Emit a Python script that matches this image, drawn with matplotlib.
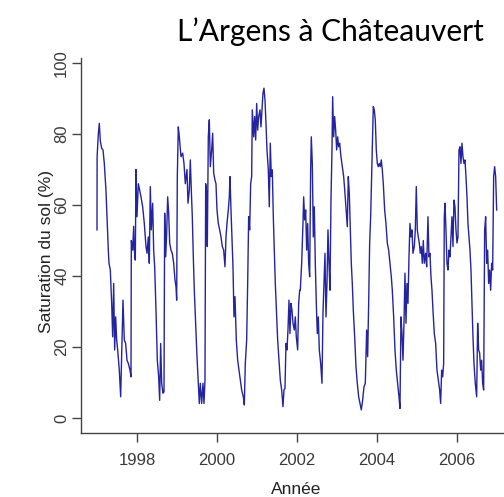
import matplotlib
matplotlib.use("Agg")
import matplotlib.pyplot as plt

# soil saturation (%), decimal years
years_a = [
    1997.000, 1997.003, 1997.033, 1997.058, 1997.083, 1997.117, 1997.150, 1997.183,
    1997.225, 1997.250, 1997.283, 1997.300, 1997.333, 1997.367, 1997.392, 1997.417,
    1997.442, 1997.467, 1997.492, 1997.517, 1997.558, 1997.592, 1997.617, 1997.650,
    1997.683, 1997.717, 1997.750, 1997.783, 1997.825, 1997.850, 1997.858, 1997.892,
    1997.917, 1997.933, 1997.958, 1997.975, 1998.000, 1998.033, 1998.067, 1998.100,
    1998.142, 1998.183, 1998.225, 1998.250, 1998.283, 1998.308, 1998.333, 1998.358,
    1998.392, 1998.417, 1998.442, 1998.475, 1998.508, 1998.542, 1998.567, 1998.592,
    1998.617, 1998.650, 1998.675, 1998.692, 1998.717, 1998.742, 1998.767, 1998.792,
    1998.817, 1998.850, 1998.883, 1998.917, 1998.950, 1998.975, 1998.992, 1999.008,
    1999.033, 1999.058, 1999.100, 1999.142, 1999.175, 1999.208, 1999.250, 1999.275,
    1999.308, 1999.333, 1999.358, 1999.383, 1999.408, 1999.433, 1999.467, 1999.500,
    1999.533, 1999.558, 1999.583, 1999.617, 1999.650, 1999.675, 1999.700, 1999.717,
    1999.742, 1999.758, 1999.783, 1999.808, 1999.833, 1999.867, 1999.892, 1999.917,
    1999.950, 1999.975, 2000.000, 2000.033, 2000.067, 2000.100, 2000.133, 2000.167,
    2000.200, 2000.225, 2000.250, 2000.283, 2000.308, 2000.325, 2000.350, 2000.375,
    2000.400, 2000.425, 2000.450, 2000.483, 2000.517, 2000.550, 2000.583, 2000.617,
    2000.658, 2000.683, 2000.708, 2000.742, 2000.767, 2000.792, 2000.817, 2000.842,
    2000.867, 2000.883, 2000.917, 2000.942, 2000.967, 2000.992, 2001.017, 2001.042,
    2001.075, 2001.100, 2001.125, 2001.150, 2001.175, 2001.200, 2001.225, 2001.250,
    2001.283, 2001.308, 2001.333, 2001.358, 2001.383, 2001.408, 2001.433, 2001.458,
    2001.492, 2001.517, 2001.550, 2001.583, 2001.617, 2001.650, 2001.675, 2001.700,
    2001.725, 2001.750, 2001.775, 2001.800, 2001.825, 2001.850, 2001.875, 2001.900,
    2001.933, 2001.958, 2001.983, 2002.017, 2002.042, 2002.067,
]
sat_a = [
    53.0, 73.6, 80.0, 83.0, 78.0, 76.0, 75.5, 71.7,
    64.0, 56.7, 47.3, 43.6, 41.7, 32.3, 22.9, 37.9,
    19.2, 28.5, 22.0, 19.2, 13.5, 6.0, 17.3, 33.2,
    22.0, 21.0, 16.3, 15.4, 13.5, 11.6, 50.0, 47.3,
    54.0, 47.3, 44.5, 70.0, 56.7, 66.0, 64.2, 62.3,
    59.5, 54.8, 48.3, 46.4, 51.0, 43.6, 65.2, 53.0,
    60.5, 47.3, 42.6, 30.4, 16.3, 11.6, 5.0, 21.0,
    9.8, 7.0, 7.4, 57.7, 45.4, 52.0, 62.3, 57.7,
    49.3, 47.3, 46.4, 43.6, 38.9, 37.0, 33.2, 68.0,
    82.0, 79.2, 73.6, 74.6, 71.7, 66.0, 70.0, 60.5,
    64.2, 72.7, 64.2, 56.7, 45.4, 36.0, 26.7, 17.3,
    9.8, 4.1, 9.8, 4.1, 9.8, 4.1, 10.7, 66.0,
    63.3, 48.3, 79.2, 84.0, 70.8, 75.5, 80.2, 69.0,
    67.0, 66.0, 58.6, 54.8, 53.0, 51.0, 48.3, 47.3,
    42.6, 51.0, 54.8, 58.6, 62.3, 68.0, 58.6, 51.0,
    42.6, 28.5, 34.2, 22.0, 16.3, 13.5, 10.7, 7.9,
    6.0, 3.7, 15.4, 22.0, 37.9, 56.7, 53.0, 66.0,
    68.0, 86.8, 79.2, 84.9, 78.3, 88.6, 81.1, 84.9,
    86.8, 82.0, 86.8, 91.5, 92.9, 89.6, 83.0, 75.5,
    69.9, 59.5, 77.4, 68.0, 69.9, 56.7, 47.3, 37.9,
    28.5, 22.0, 16.3, 10.7, 7.9, 3.2, 7.9, 8.4,
    21.0, 19.2, 24.8, 33.2, 23.8, 32.3, 30.4, 26.7,
    24.8, 28.5, 22.9, 19.2, 32.3, 36.0,
]
years_b = [
    2002.083, 2002.117, 2002.150, 2002.167, 2002.192, 2002.217, 2002.242, 2002.267,
    2002.292, 2002.317, 2002.342, 2002.358, 2002.383, 2002.408, 2002.433, 2002.458,
    2002.483, 2002.508, 2002.533, 2002.558, 2002.592, 2002.625, 2002.650, 2002.675,
    2002.700, 2002.725, 2002.750, 2002.775, 2002.800, 2002.825, 2002.850, 2002.875,
    2002.892, 2002.917, 2002.942, 2002.967, 2002.992, 2003.017, 2003.042, 2003.067,
    2003.100, 2003.133, 2003.167, 2003.200, 2003.233, 2003.258, 2003.283, 2003.308,
    2003.333, 2003.358, 2003.383, 2003.408, 2003.442, 2003.475, 2003.508, 2003.542,
    2003.575, 2003.608, 2003.642, 2003.675, 2003.708, 2003.742, 2003.767, 2003.792,
    2003.817, 2003.842, 2003.867, 2003.892, 2003.908, 2003.933, 2003.958, 2003.983,
    2004.008, 2004.033, 2004.058, 2004.083, 2004.108, 2004.133, 2004.158, 2004.192,
    2004.225, 2004.258, 2004.292, 2004.325, 2004.358, 2004.383, 2004.417, 2004.450,
    2004.483, 2004.517, 2004.550, 2004.575, 2004.600, 2004.625, 2004.650, 2004.675,
    2004.700, 2004.725, 2004.750, 2004.775, 2004.800, 2004.825, 2004.850, 2004.875,
    2004.900, 2004.933, 2004.958, 2004.983, 2005.008, 2005.033, 2005.058, 2005.083,
    2005.108, 2005.133, 2005.158, 2005.183, 2005.217, 2005.242, 2005.275, 2005.300,
    2005.325, 2005.350, 2005.375, 2005.400, 2005.433, 2005.467, 2005.500, 2005.533,
    2005.567, 2005.592, 2005.617, 2005.642, 2005.667, 2005.683, 2005.700, 2005.725,
    2005.750, 2005.775, 2005.800, 2005.825, 2005.850, 2005.875, 2005.900, 2005.925,
    2005.950, 2005.975, 2006.000, 2006.025, 2006.050, 2006.075, 2006.100, 2006.125,
    2006.150, 2006.175, 2006.200, 2006.225, 2006.250, 2006.275, 2006.300, 2006.325,
    2006.350, 2006.375, 2006.400, 2006.425, 2006.458, 2006.492, 2006.517, 2006.542,
    2006.567, 2006.592, 2006.617, 2006.642, 2006.667, 2006.692, 2006.717, 2006.742,
    2006.767, 2006.792, 2006.817, 2006.842, 2006.867, 2006.892, 2006.917, 2006.942,
    2006.967, 2006.992,
]
sat_b = [
    36.0, 43.6, 54.8, 62.3, 55.8, 58.6, 47.3, 54.8,
    43.6, 39.8, 69.9, 79.2, 71.7, 51.0, 59.5, 43.6,
    32.3, 23.8, 28.5, 19.2, 15.4, 9.8, 29.5, 37.9,
    46.4, 28.5, 37.9, 53.0, 43.6, 36.0, 61.4, 75.5,
    90.5, 79.2, 84.9, 81.1, 75.5, 79.2, 76.4, 77.4,
    73.6, 70.8, 68.0, 63.3, 57.7, 53.9, 68.0, 63.3,
    53.0, 43.6, 37.9, 30.4, 22.9, 14.5, 9.8, 6.0,
    4.1, 2.3, 5.1, 8.8, 9.8, 24.8, 17.3, 32.3,
    49.3, 56.7, 68.0, 80.2, 87.7, 86.8, 83.9, 75.5,
    71.7, 70.8, 71.7, 70.8, 72.7, 69.9, 66.0, 58.6,
    54.8, 49.3, 47.3, 43.6, 39.8, 36.0, 28.5, 19.2,
    13.5, 9.8, 6.0, 2.7, 28.5, 23.8, 16.3, 26.7,
    40.8, 26.7, 37.9, 32.3, 45.4, 54.8, 51.0, 53.0,
    46.4, 48.3, 53.0, 65.2, 53.0, 51.0, 49.3, 46.4,
    48.3, 43.6, 50.0, 43.6, 46.4, 42.6, 56.7, 45.4,
    46.4, 39.8, 36.0, 30.4, 23.8, 21.0, 13.5, 10.7,
    7.9, 4.1, 13.5, 11.6, 15.4, 56.7, 60.5, 53.0,
    43.6, 41.7, 47.3, 45.4, 51.0, 56.7, 48.3, 61.4,
    59.5, 53.0, 49.3, 51.0, 75.5, 76.4, 71.7, 77.4,
    73.6, 71.7, 72.7, 68.0, 62.3, 54.8, 51.0, 47.3,
    41.7, 32.3, 22.9, 15.4, 9.8, 6.0, 26.7, 19.2,
    18.3, 13.5, 16.3, 9.8, 7.9, 53.0, 56.7, 43.6,
    47.3, 37.9, 41.7, 36.0, 43.6, 41.7, 68.0, 70.8,
    68.0, 58.6,
]
years = years_a + years_b
saturation = sat_a + sat_b

x_ticks = [1998, 2000, 2002, 2004, 2006]
y_ticks = [0, 20, 40, 60, 80, 100]

plt.rcParams['font.family'] = ['Liberation Sans', 'DejaVu Sans']

fig = plt.figure(figsize=(5.04, 4.97), dpi=100)
ax = fig.add_axes([0.1607, 0.1288, 0.8571, 0.7545])

ax.plot(years, saturation, color='#2424a0', lw=1.0)

ax.set_xlim(1996.6, 2007.4)
ax.set_ylim(-4.2, 101.4)
ax.set_xticks(x_ticks)
ax.set_yticks(y_ticks)

for side in ('top', 'right'):
    ax.spines[side].set_visible(False)
for side in ('left', 'bottom'):
    ax.spines[side].set_color('#444444')
    ax.spines[side].set_linewidth(1.0)

ax.tick_params(axis='both', direction='out', length=6.5, width=1.0,
               color='#444444', labelcolor='#3a3a3a', labelsize=12)
ax.tick_params(axis='x', pad=8)
ax.tick_params(axis='y', pad=2)
for lab in ax.get_yticklabels():
    lab.set_rotation(90)
    lab.set_va('center')

ax.set_xlabel('Année', fontsize=12.5, color='#222222')
ax.set_ylabel('Saturation du sol (%)', fontsize=12.5, color='#222222')
ax.xaxis.set_label_coords(0.497, -0.13)
ax.yaxis.set_label_coords(-0.062, 0.485)

fig.text(0.656, 0.918, 'L\u2019Argens à Châteauvert', family='Lato',
         fontsize=21.5, ha='center', va='baseline', color='black')

fig.savefig('out.png', dpi=100)
